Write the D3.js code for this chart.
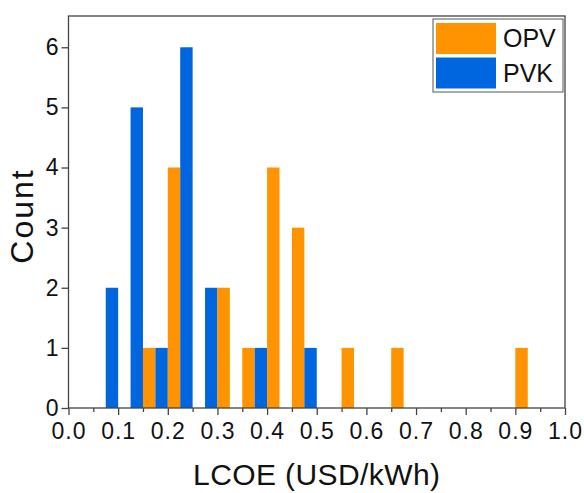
<!DOCTYPE html>
<html>
<head>
<meta charset="utf-8">
<script src="https://cdn.jsdelivr.net/npm/d3@7"></script>
<style>
  html, body { margin: 0; padding: 0; background: #fff; overflow: hidden; }
  svg { display: block; }
</style>
</head>
<body>
<div id="chart"></div>
<script>
// bin centres (LCOE, USD/kWh); PVK drawn left of centre, OPV right of it
const binCenters = [0.1, 0.15, 0.2, 0.25, 0.3, 0.35, 0.4, 0.45, 0.5, 0.55, 0.6, 0.65, 0.7, 0.75, 0.8, 0.85, 0.9];
const pvkCounts  = [2,   5,    1,   6,    2,   0,    1,   0,    1,   0,    0,   0,    0,   0,    0,   0,    0];
const opvCounts  = [0,   1,    4,   0,    2,   1,    4,   3,    0,   1,    0,   1,    0,   0,    0,   0,    1];
const seriesNames = ["OPV", "PVK"];
const xTicks = [0, 0.1, 0.2, 0.3, 0.4, 0.5, 0.6, 0.7, 0.8, 0.9, 1.0];
const xMinorTicks = [0.05, 0.15, 0.25, 0.35, 0.45, 0.55, 0.65, 0.75, 0.85, 0.95];
const yTicks = [0, 1, 2, 3, 4, 5, 6];

const width = 584, height = 493;
const margin = { top: 16, right: 19, bottom: 85, left: 68.5 };
const innerWidth = width - margin.left - margin.right;
const innerHeight = height - margin.top - margin.bottom;
const colors = { OPV: "#ff9300", PVK: "#0066e0" };
const font = "'Liberation Sans', Arial, sans-serif";
const halfBin = 0.025;

const svg = d3.select("#chart").append("svg")
    .attr("width", width)
    .attr("height", height)
    .attr("font-family", font);

const g = svg.append("g")
    .attr("transform", `translate(${margin.left},${margin.top})`);

const x = d3.scaleLinear().domain([0, 1]).range([0, innerWidth]);
const y = d3.scaleLinear().domain([0, 6.52]).range([innerHeight, 0]);

// bars
const bars = [];
binCenters.forEach((c, i) => {
    if (pvkCounts[i] > 0) bars.push({ x0: c - halfBin, x1: c, v: pvkCounts[i], s: "PVK" });
    if (opvCounts[i] > 0) bars.push({ x0: c, x1: c + halfBin, v: opvCounts[i], s: "OPV" });
});

g.selectAll(".bar")
    .data(bars)
    .enter().append("rect")
    .attr("class", "bar")
    .attr("x", d => x(d.x0))
    .attr("width", d => x(d.x1) - x(d.x0))
    .attr("y", d => y(d.v))
    .attr("height", d => innerHeight - y(d.v))
    .attr("fill", d => colors[d.s]);

// frame
g.append("rect")
    .attr("width", innerWidth)
    .attr("height", innerHeight)
    .attr("fill", "none")
    .attr("stroke", "#444")
    .attr("stroke-width", 1.3);

// x axis
const xAxis = g.append("g")
    .attr("transform", `translate(0,${innerHeight})`)
    .call(d3.axisBottom(x).tickValues(xTicks).tickSize(7).tickPadding(8).tickFormat(d3.format(".1f")));
xAxis.attr("font-size", 23).attr("font-family", font);
xAxis.select(".domain").remove();
xAxis.selectAll("line").attr("stroke", "#444").attr("stroke-width", 1.3);
xAxis.selectAll("text").attr("fill", "#111").attr("letter-spacing", 1);

g.append("g")
    .attr("transform", `translate(0,${innerHeight})`)
    .call(d3.axisBottom(x).tickValues(xMinorTicks).tickSize(4).tickFormat(""))
    .call(a => a.select(".domain").remove())
    .call(a => a.selectAll("text").remove())
    .selectAll("line").attr("stroke", "#444").attr("stroke-width", 1.3);

// y axis
const yAxis = g.append("g")
    .call(d3.axisLeft(y).tickValues(yTicks).tickSize(7).tickPadding(3).tickFormat(d3.format("d")));
yAxis.attr("font-size", 23).attr("font-family", font);
yAxis.select(".domain").remove();
yAxis.selectAll("line").attr("stroke", "#444").attr("stroke-width", 1.3);
yAxis.selectAll("text").attr("fill", "#111");

// axis titles
svg.append("text")
    .attr("x", margin.left + innerWidth / 2)
    .attr("y", 485)
    .attr("text-anchor", "middle")
    .attr("font-size", 30)
    .attr("letter-spacing", 0.4)
    .attr("fill", "#111")
    .text("LCOE (USD/kWh)");

svg.append("text")
    .attr("transform", "translate(33,216) rotate(-90)")
    .attr("text-anchor", "middle")
    .attr("font-size", 32)
    .attr("letter-spacing", 2)
    .attr("fill", "#111")
    .text("Count");

// legend
const legend = svg.append("g").attr("transform", "translate(433,19)");
legend.append("rect")
    .attr("width", 130)
    .attr("height", 73)
    .attr("fill", "#fff")
    .attr("stroke", "#555")
    .attr("stroke-width", 1);
legend.selectAll(".sw")
    .data(seriesNames)
    .enter().append("rect")
    .attr("x", 3)
    .attr("y", (d, i) => 4 + i * 34.5)
    .attr("width", 60)
    .attr("height", 31)
    .attr("fill", d => colors[d]);
legend.selectAll(".lt")
    .data(seriesNames)
    .enter().append("text")
    .attr("x", 70)
    .attr("y", (d, i) => 28 + i * 34.5)
    .attr("font-size", 25)
    .attr("fill", "#111")
    .text(d => d);
</script>
</body>
</html>
